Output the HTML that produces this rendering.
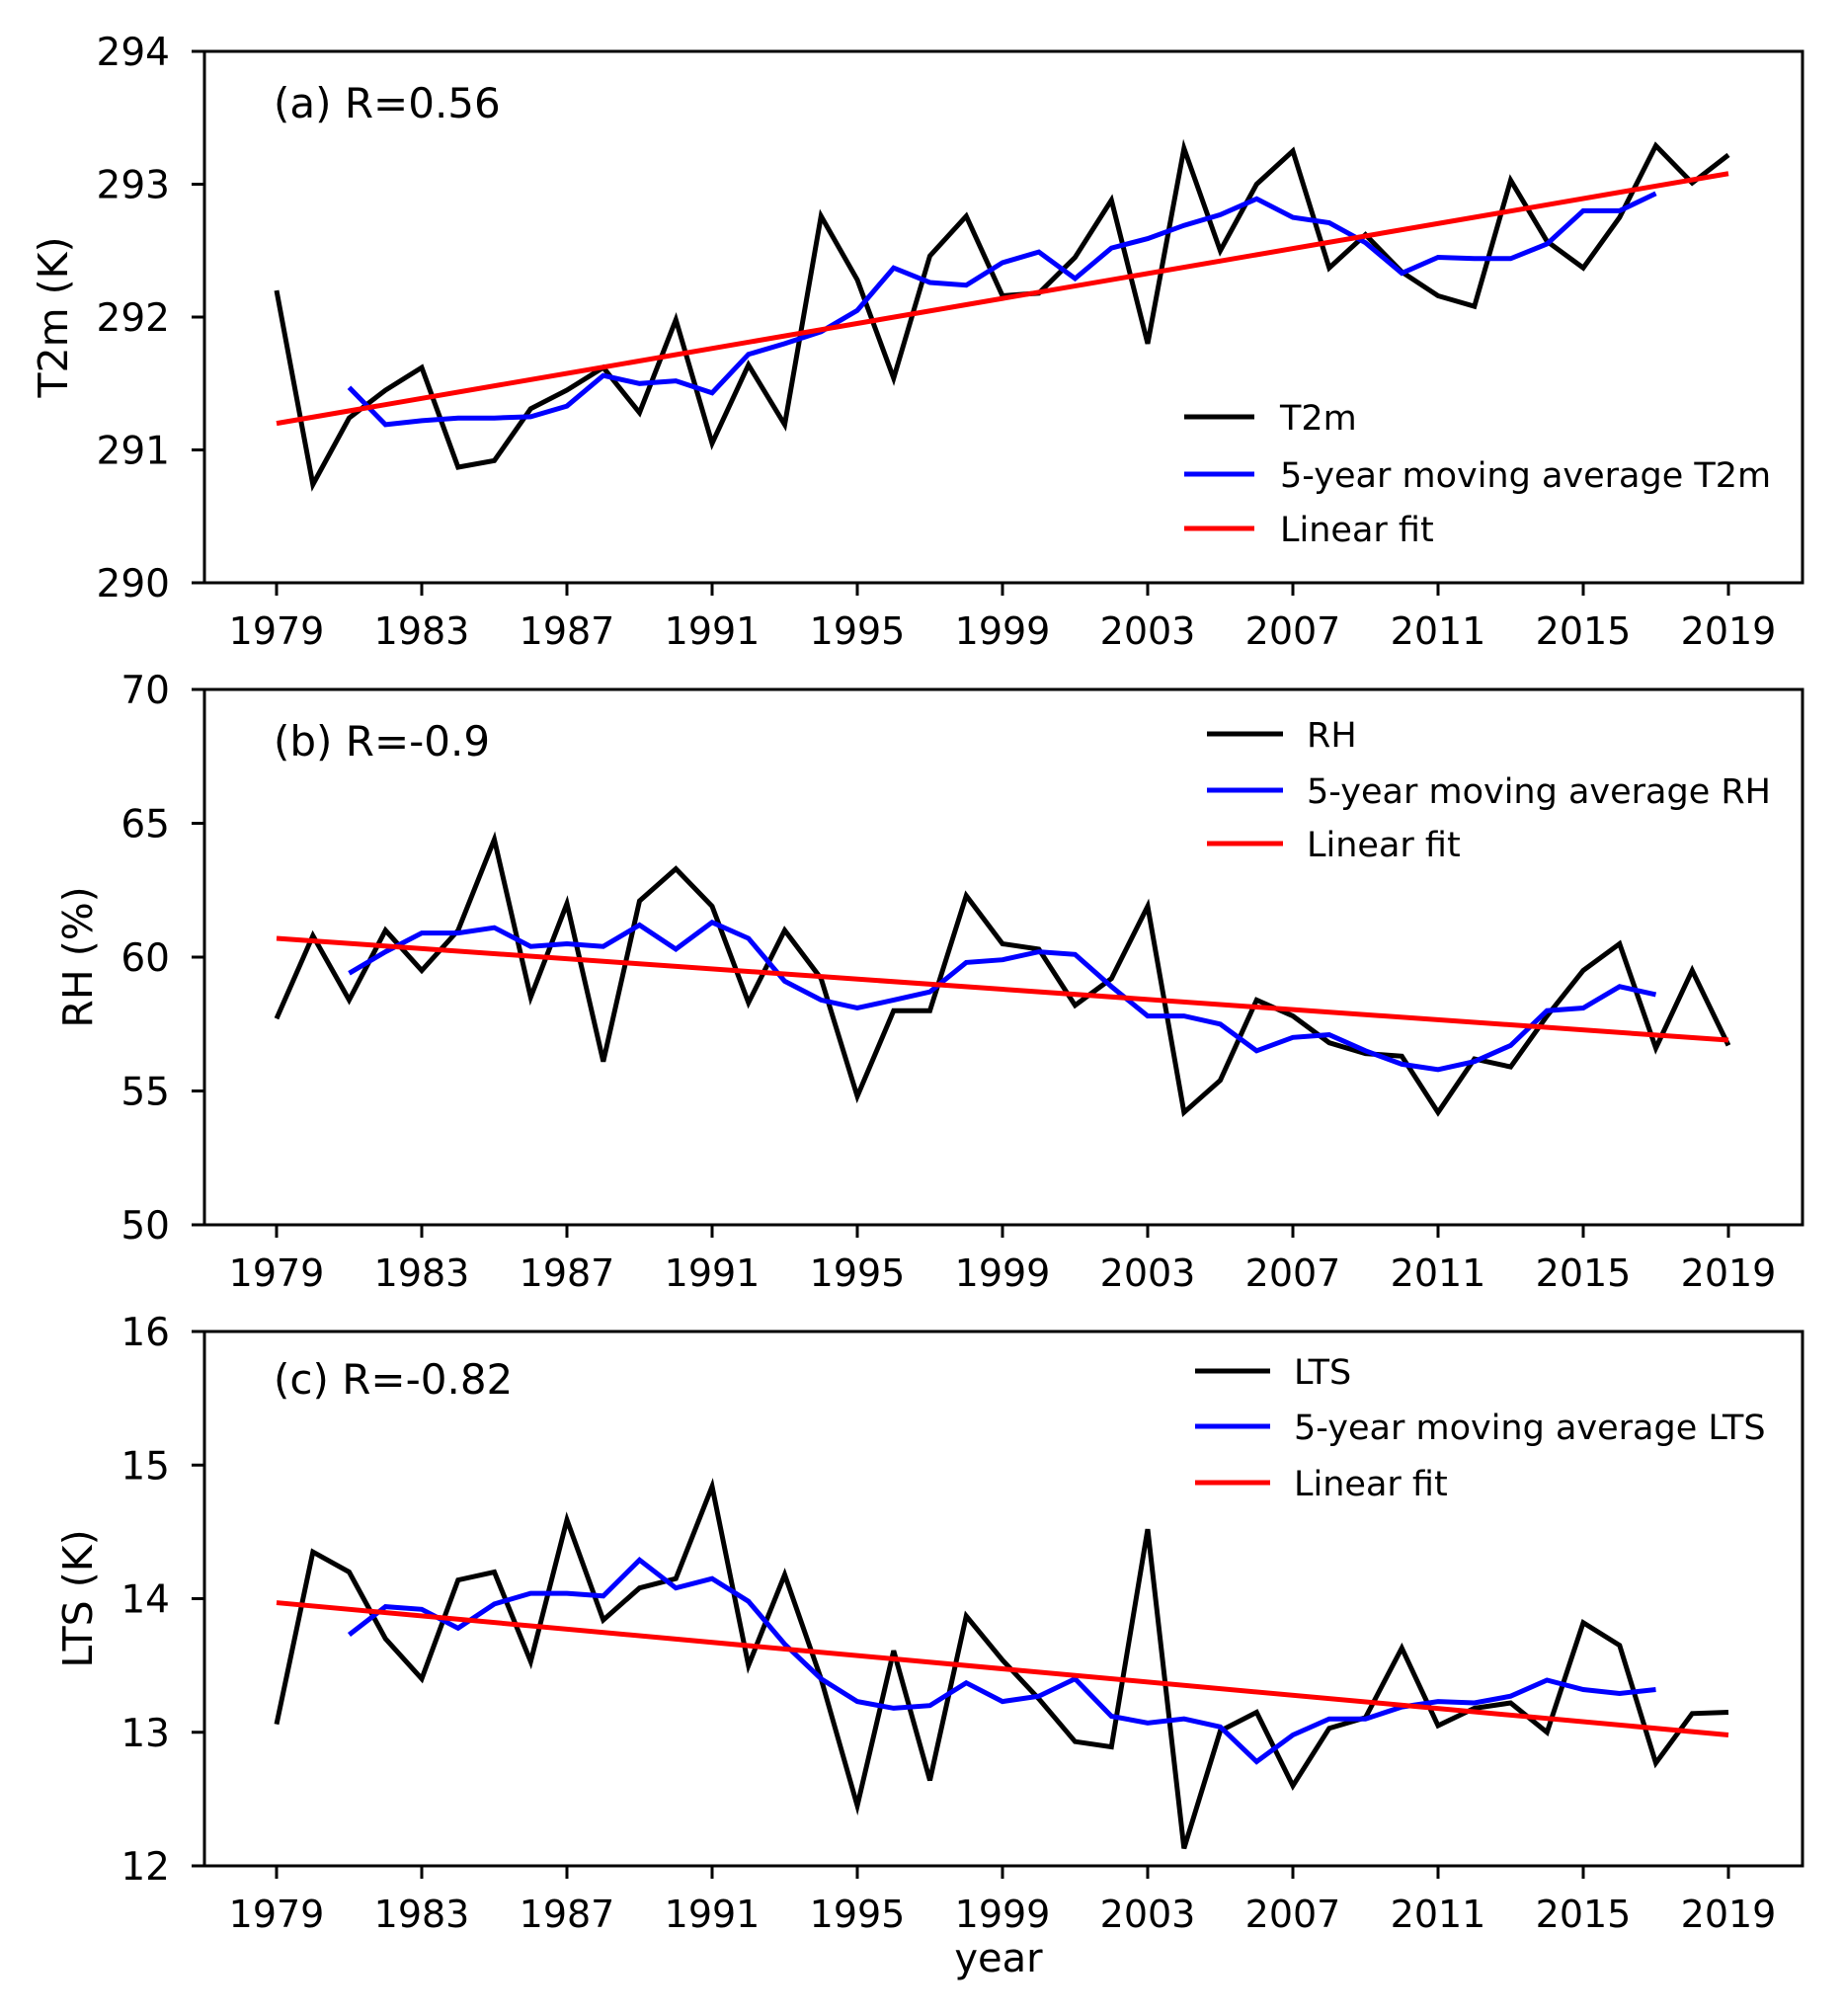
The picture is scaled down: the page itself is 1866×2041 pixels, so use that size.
<!DOCTYPE html>
<html><head><meta charset="utf-8"><style>
html,body{margin:0;padding:0;background:#fff;}
svg{display:block;font-family:"DejaVu Sans","Liberation Sans",sans-serif;}
</style></head><body>
<svg id="fig" width="1866" height="2041" viewBox="0 0 1866 2041" xmlns="http://www.w3.org/2000/svg"></svg>
<script>
const years = [];
for (let y = 1979; y <= 2019; y++) years.push(y);
const maYears = years.slice(2, 39);
const xTicks = [1979,1983,1987,1991,1995,1999,2003,2007,2011,2015,2019];

const t2m = [292.20,290.74,291.24,291.45,291.62,290.87,290.92,291.31,291.45,291.62,291.28,291.98,291.05,291.64,291.19,292.76,292.28,291.54,292.46,292.76,292.16,292.18,292.45,292.88,291.80,293.27,292.50,293.00,293.25,292.37,292.62,292.34,292.16,292.08,293.03,292.57,292.37,292.75,293.29,293.01,293.22];
const t2mMA = [291.47,291.19,291.22,291.24,291.24,291.25,291.33,291.56,291.50,291.52,291.43,291.72,291.80,291.89,292.05,292.37,292.26,292.24,292.41,292.49,292.29,292.52,292.59,292.69,292.77,292.89,292.75,292.71,292.56,292.33,292.45,292.44,292.44,292.55,292.80,292.80,292.93];
const t2mFit = [291.20,293.08];
const t2mTicks = [290,291,292,293,294];

const rh = [57.7,60.8,58.4,61.0,59.5,61.0,64.4,58.5,62.0,56.1,62.1,63.3,61.9,58.3,61.0,59.2,54.8,58.0,58.0,62.3,60.5,60.3,58.2,59.2,61.9,54.2,55.4,58.4,57.8,56.8,56.4,56.3,54.2,56.2,55.9,57.8,59.5,60.5,56.6,59.5,56.7];
const rhMA = [59.4,60.2,60.9,60.9,61.1,60.4,60.5,60.4,61.2,60.3,61.3,60.7,59.1,58.4,58.1,58.4,58.7,59.8,59.9,60.2,60.1,58.9,57.8,57.8,57.5,56.5,57.0,57.1,56.5,56.0,55.8,56.1,56.7,58.0,58.1,58.9,58.6];
const rhFit = [60.7,56.9];
const rhTicks = [50,55,60,65,70];

const lts = [13.06,14.35,14.20,13.70,13.40,14.14,14.20,13.53,14.59,13.84,14.08,14.15,14.84,13.50,14.18,13.40,12.45,13.61,12.64,13.87,13.54,13.25,12.93,12.89,14.52,12.13,13.01,13.15,12.60,13.03,13.11,13.63,13.05,13.18,13.22,13.00,13.82,13.65,12.77,13.14,13.15];
const ltsMA = [13.73,13.94,13.92,13.78,13.96,14.04,14.04,14.02,14.29,14.08,14.15,13.98,13.66,13.40,13.23,13.18,13.20,13.37,13.23,13.27,13.40,13.12,13.07,13.10,13.04,12.78,12.98,13.10,13.10,13.19,13.23,13.22,13.27,13.39,13.32,13.29,13.32];
const ltsFit = [13.97,12.98];
const ltsTicks = [12,13,14,15,16];

const NS = "http://www.w3.org/2000/svg";
const svg = document.getElementById('fig');
function mk(tag, attrs, parent){ const e=document.createElementNS(NS,tag); for(const k in attrs) e.setAttribute(k,attrs[k]); (parent||svg).appendChild(e); return e; }

const L=207, R=1825;
const xS = y => 280 + (y-1979)*(1750-280)/40;

const panels = [
 {key:'t2m', top:52, bot:590, ticks:t2mTicks, data:t2m, ma:t2mMA, fit:t2mFit, ylabel:'T2m (K)', ylx:57, ann:'(a) R=0.56', annY:104,
  leg:['T2m','5-year moving average T2m','Linear fit'], legX1:1199, legX2:1270, legTX:1296, legY:[422,480,535]},
 {key:'rh', top:698, bot:1240, ticks:rhTicks, data:rh, ma:rhMA, fit:rhFit, ylabel:'RH (%)', ylx:82, ann:'(b) R=-0.9', annY:750,
  leg:['RH','5-year moving average RH','Linear fit'], legX1:1222, legX2:1299, legTX:1323, legY:[743,800,854]},
 {key:'lts', top:1348, bot:1889, ticks:ltsTicks, data:lts, ma:ltsMA, fit:ltsFit, ylabel:'LTS (K)', ylx:82, ann:'(c) R=-0.82', annY:1396,
  leg:['LTS','5-year moving average LTS','Linear fit'], legX1:1210, legX2:1286, legTX:1310, legY:[1388,1444,1501]}
];

panels.forEach(p=>{
  const g = mk('g',{});
  
  
  const t0=p.ticks[0], t1=p.ticks[p.ticks.length-1];
  const yS = v => p.bot - (v-t0)*(p.bot-p.top)/(t1-t0);
  p.ticks.forEach(t=>{
    const ln = mk('line',{x1:L-13,x2:L,y1:yS(t),y2:yS(t),stroke:'#000','stroke-width':3},g);
    
    
    const tx = mk('text',{x:172,y:yS(t)+14,'text-anchor':'end','font-size':39,fill:'#000'},g);
    tx.textContent = t;
    
    
  });
  xTicks.forEach(t=>{
    const ln = mk('line',{x1:xS(t),x2:xS(t),y1:p.bot,y2:p.bot+13,stroke:'#000','stroke-width':3},g);
    
    
    const tx = mk('text',{x:xS(t),y:p.bot+62,'text-anchor':'middle','font-size':38,fill:'#000'},g);
    tx.textContent = t;
    
    
  });
  const yl = mk('text',{x:p.ylx,y:(p.top+p.bot)/2,'text-anchor':'middle','dominant-baseline':'middle','font-size':41,fill:'#000',transform:`rotate(-90 ${p.ylx} ${(p.top+p.bot)/2})`},g);
  yl.textContent = p.ylabel;
  
  
  const pts = (xs,vs)=>vs.map((v,i)=>xS(xs[i]).toFixed(1)+','+yS(v).toFixed(1)).join(' ');
  const s1 = mk('polyline',{points:pts(years,p.data),fill:'none',stroke:'#000','stroke-width':5,'stroke-linejoin':'miter'},g);
  
  
  const s2 = mk('polyline',{points:pts(maYears,p.ma),fill:'none',stroke:'#0000ff','stroke-width':5},g);
  
  
  const s3 = mk('line',{x1:xS(1979),y1:yS(p.fit[0]),x2:xS(2019),y2:yS(p.fit[1]),stroke:'#ff0000','stroke-width':5},g);
  
  
  const fr = mk('rect',{x:L,y:p.top,width:R-L,height:p.bot-p.top,fill:'none',stroke:'#000','stroke-width':3},g);
  
  
  const an = mk('text',{x:277,y:p.annY+15,'font-size':42,fill:'#000'},g);
  an.textContent = p.ann;
  
  
  const cols=['#000','#0000ff','#ff0000'];
  p.leg.forEach((lab,i)=>{
    const ll = mk('line',{x1:p.legX1,x2:p.legX2,y1:p.legY[i],y2:p.legY[i],stroke:cols[i],'stroke-width':5},g);
    
    
    const lt = mk('text',{x:p.legTX,y:p.legY[i]+13,'font-size':35,fill:'#000'},g);
    lt.textContent = lab;
    
    
  });
});
const xl = mk('text',{x:1011,y:1996,'text-anchor':'middle','font-size':40,fill:'#000'});
xl.textContent='year';


</script>
</body></html>
